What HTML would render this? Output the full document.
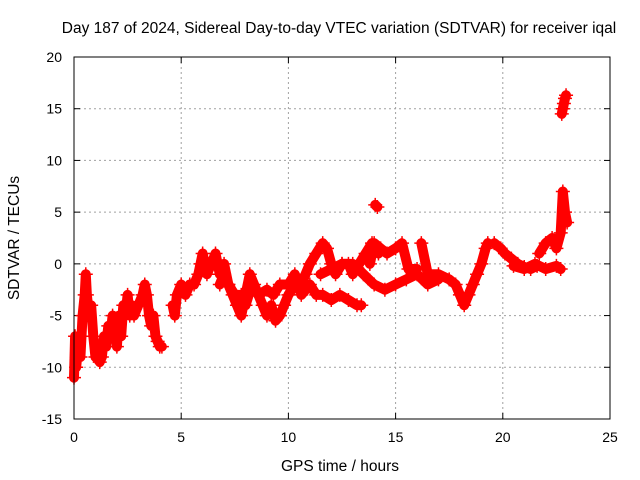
<!DOCTYPE html>
<html><head><meta charset="utf-8"><style>
html,body{margin:0;padding:0;background:#fff}
svg{display:block;font-family:"Liberation Sans",sans-serif}
</style></head><body>
<svg id="chart" width="640" height="480">
<text x="339" y="33" font-size="15.5" text-anchor="middle">Day 187 of 2024, Sidereal Day-to-day VTEC variation (SDTVAR) for receiver iqal</text>
<text x="340" y="471" font-size="15.5" text-anchor="middle">GPS time / hours</text>
<text transform="translate(19,238) rotate(-90)" font-size="15.5" text-anchor="middle">SDTVAR / TECUs</text>
<g id="grid"></g>
<g id="ticks"></g>
<g id="marks"></g>
<rect x="74" y="57" width="536" height="362" fill="none" stroke="#000" stroke-width="1"/>
</svg>
<script>
const xTicks=[0,5,10,15,20,25];
const yTicks=[-15,-10,-5,0,5,10,15,20];
const traceA=[[0,-11],[0.05,-7],[0.1,-10],[0.2,-8],[0.3,-9],[0.4,-5],[0.5,-3],[0.55,-1],[0.6,-3],[0.7,-5],[0.8,-4],[0.9,-7],[1.0,-9],[1.1,-8],[1.2,-9.5],[1.3,-9],[1.4,-7],[1.5,-8],[1.6,-6],[1.7,-7],[1.8,-5],[1.9,-6],[2.0,-8],[2.1,-5],[2.2,-7],[2.3,-4],[2.4,-5],[2.5,-3],[2.6,-5],[2.7,-4],[2.8,-5],[3.0,-4],[3.2,-3],[3.3,-2],[3.4,-3],[3.5,-5],[3.6,-6],[3.7,-5],[3.8,-7],[3.9,-7.5],[4.0,-8],[4.1,-8]];
const traceB=[[4.6,-4],[4.7,-5],[4.8,-3],[5.0,-2],[5.2,-3],[5.4,-2],[5.6,-2],[5.8,-1],[5.9,0],[6.0,1],[6.2,-1],[6.4,0],[6.6,1],[6.8,-1],[7.0,0],[7.2,-2],[7.4,-3],[7.6,-4],[7.8,-5],[8.0,-3],[8.2,-1],[8.4,-2],[8.6,-3],[8.8,-4],[9.0,-5],[9.2,-4],[9.4,-5.5],[9.6,-5]];
const traceC=[[6.8,-2],[7.0,-1],[7.2,-2],[7.5,-3],[7.8,-3],[8.0,-4],[8.3,-2],[8.6,-3],[9.0,-2.5],[9.3,-3],[9.6,-2],[10.0,-2],[10.3,-1],[10.6,-3],[11.0,-2],[11.3,-3],[11.6,-3],[12.0,-3.5],[12.4,-3],[12.8,-3.5],[13.2,-4],[13.4,-4]];
const traceD=[[9.6,-5],[9.8,-4],[10.0,-3],[10.3,-2],[10.6,-2],[10.8,-1],[11.0,0],[11.3,1],[11.6,2],[11.8,1.5],[12.0,0],[12.2,-1],[12.5,0],[12.8,0],[13.0,-1],[13.3,0],[13.6,1],[13.9,2],[14.2,1]];
const traceE=[[11.5,-1],[12,-0.5],[12.5,0],[13,0],[13.5,-1],[14,-2],[14.5,-2.5],[15,-2],[15.5,-1.5],[16,-1],[16.5,-2],[17,-1.5]];
const traceF=[[13.8,0],[14.0,2],[14.3,1.5],[14.6,1],[15,1.5],[15.3,2],[15.6,-0.5],[16,-0.5]];
const traceG=[[16.2,2],[16.5,-1],[17,-1],[17.5,-1.5],[17.8,-2],[18,-3],[18.2,-4],[18.4,-3],[18.6,-2],[18.8,-1],[19,0],[19.2,1.5],[19.3,2]];
const traceH=[[19.6,2],[19.9,1.5],[20.1,1],[20.4,0.5],[20.7,0],[21,-0.3],[21.3,-0.5],[21.6,-0.2]];
const traceI=[[21.7,1],[22,2],[22.3,2.5],[22.5,1.5],[22.7,3],[22.8,7],[22.9,5],[23.0,4]];
const traceJ=[[22.75,14.5],[22.8,15],[22.85,15.5],[22.9,16],[22.95,16.3]];
const traceK=[[20.5,-0.2],[21,-0.5],[21.5,0],[22,-0.5],[22.5,-0.2],[22.7,-0.5]];
const traceL=[[14.05,5.7],[14.15,5.5]];
const traces=[traceA,traceB,traceC,traceD,traceE,traceF,traceG,traceH,traceI,traceJ,traceK,traceL];

const X0=74,X1=610,Y0=419,Y1=57;
const sx=v=>X0+(v-0)/25*(X1-X0);
const sy=v=>Y0-(v+15)/35*(Y0-Y1);
const NS="http://www.w3.org/2000/svg";
const grid=document.getElementById('grid'),ticks=document.getElementById('ticks'),marks=document.getElementById('marks');
function mk(tag,attrs,parent){const e=document.createElementNS(NS,tag);for(const k in attrs)e.setAttribute(k,attrs[k]);parent.appendChild(e);return e;}
xTicks.forEach(t=>{const x=sx(t);
 if(t>0&&t<25){const g=mk('line',{x1:x,x2:x,y1:Y0,y2:Y1,stroke:'#a0a0a0','stroke-dasharray':'2,3'},grid);
 
 }
 mk('line',{x1:x,x2:x,y1:Y0,y2:Y0-6,stroke:'#000'},ticks);mk('line',{x1:x,x2:x,y1:Y1,y2:Y1+6,stroke:'#000'},ticks);
 const l=mk('text',{x:x,y:Y0+23,'font-size':14,'text-anchor':'middle'},ticks);l.textContent=t;
 
 });
yTicks.forEach(t=>{const y=sy(t);
 if(t>-15&&t<20){const g=mk('line',{x1:X0,x2:X1,y1:y,y2:y,stroke:'#a0a0a0','stroke-dasharray':'2,3'},grid);
 
 }
 mk('line',{x1:X0,x2:X0+6,y1:y,y2:y,stroke:'#000'},ticks);mk('line',{x1:X1,x2:X1-6,y1:y,y2:y,stroke:'#000'},ticks);
 const l=mk('text',{x:X0-12,y:y+5,'font-size':14,'text-anchor':'end'},ticks);l.textContent=t;
 
 });
traces.forEach((tr,i)=>{
 const pts=tr.map(p=>sx(p[0])+','+sy(p[1])).join(' ');
 const pl=mk('polyline',{points:pts,fill:'none',stroke:'#f00','stroke-width':10,'stroke-linejoin':'round','stroke-linecap':'round'},marks);
 
 
 tr.forEach(p=>{const x=sx(p[0]),y=sy(p[1]);
  const m=mk('path',{d:`M${x-7},${y}H${x+7}M${x},${y-7}V${y+7}`,stroke:'#f00','stroke-width':1.5},marks);
  
  });
});
</script>
</body></html>
